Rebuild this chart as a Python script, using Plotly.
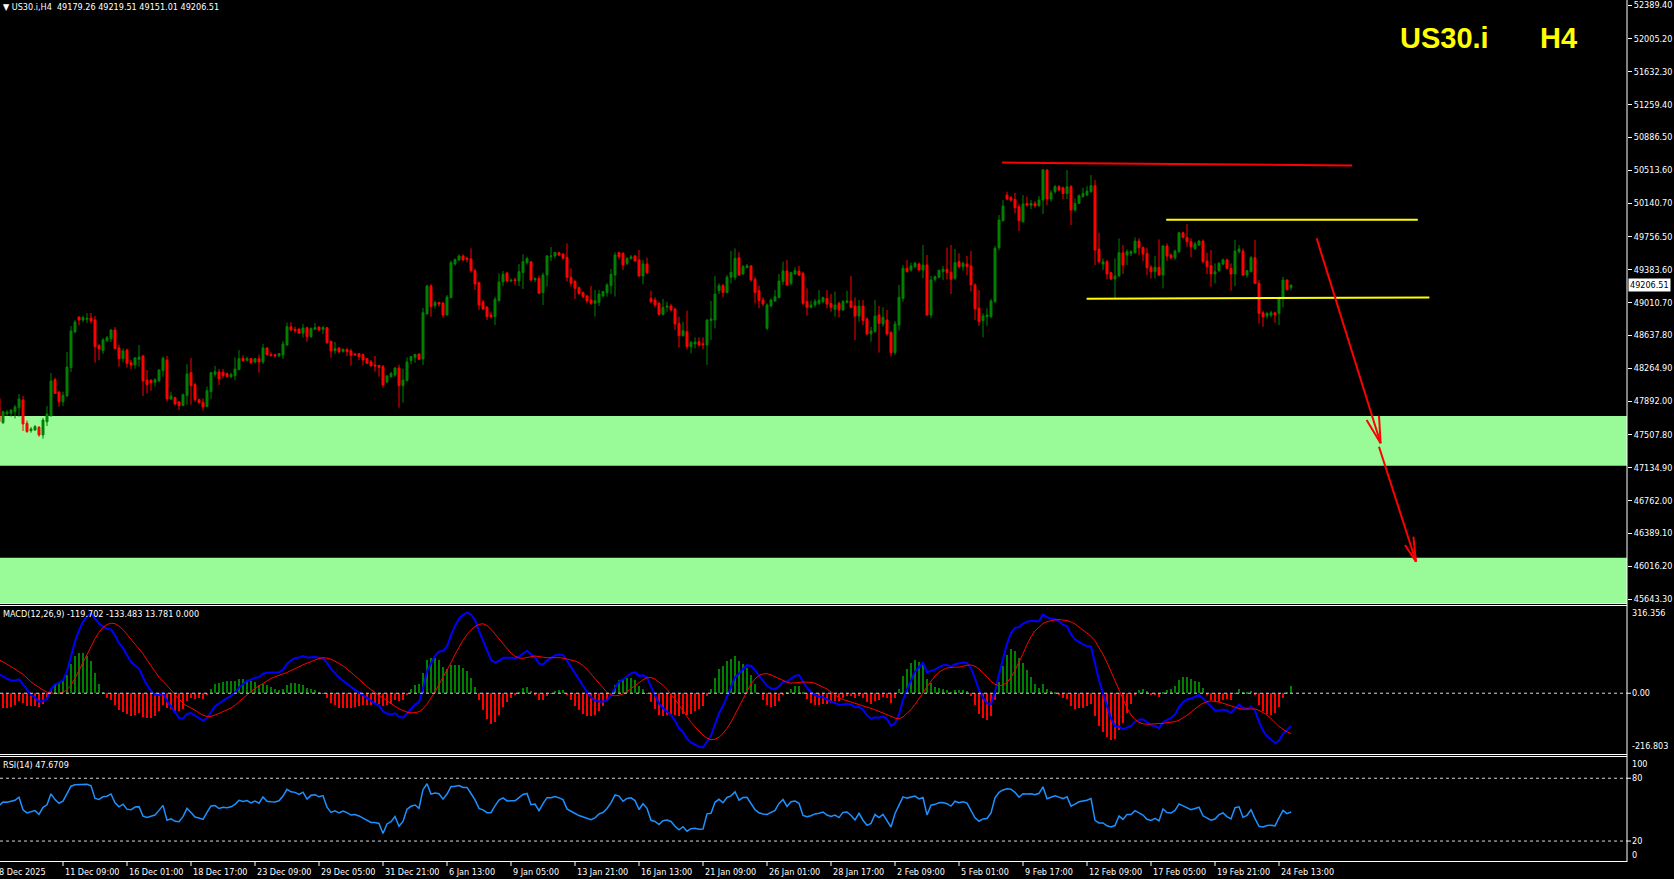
import numpy as np
import plotly.graph_objects as go

# ---------------- DATA ----------------
bar_open = [
47922,47646,47744,47752,47771,47816,47903,47638,47555,47563,
47593,47506,47657,47725,48134,47994,47884,47949,48271,48676,
48846,48812,48820,48835,48812,48521,48464,48577,48600,48699,
48494,48373,48471,48327,48301,48365,48403,48131,48127,48104,
48123,48237,48358,47915,47930,47881,47839,47953,48214,48078,
47907,47877,47828,47998,48195,48221,48218,48203,48168,48180,
48248,48377,48354,48373,48335,48373,48335,48494,48418,48418,
48407,48415,48528,48736,48706,48710,48661,48725,48623,48706,
48733,48706,48725,48570,48464,48494,48456,48475,48460,48426,
48430,48418,48373,48335,48301,48297,48282,48108,48168,48187,
48267,48066,48123,48350,48388,48426,48369,48880,49198,48975,
49009,49005,48869,49066,49448,49494,49539,49512,49505,49372,
49236,49016,48956,48869,48850,49032,49244,49346,49255,49270,
49255,49350,49463,49474,49270,49285,49122,49323,49531,49539,
49577,49562,49524,49297,49248,49179,49123,49085,49039,49001,
49013,49085,49123,49202,49323,49577,49569,49456,49513,49539,
49494,49312,49448,49058,49039,49001,48877,48956,48971,48937,
48774,48634,48680,48509,48540,48566,48543,48528,48805,48812,
49145,49202,49123,49297,49297,49520,49335,49407,49426,49274,
49145,49039,48717,48971,49028,49066,49248,49369,49229,49335,
49369,49342,49020,48956,48983,49001,49020,49058,49001,48933,
49001,48926,49013,49028,48971,48857,48971,48823,48653,48680,
48869,48767,48812,48668,48441,48755,49058,49399,49380,49418,
49448,49380,49437,48869,49274,49297,49361,49388,49354,49285,
49475,49418,49448,49426,49210,48945,48805,48850,48850,49020,
49633,49940,50231,50201,50182,50098,49928,50136,50114,50136,
50110,50174,50515,50186,50269,50326,50314,50250,50326,50061,
50136,50212,50231,50269,50337,49618,49447,49474,49349,49277,
49311,49576,49549,49568,49576,49708,49637,49568,49410,49360,
49410,49322,49652,49549,49519,49587,49803,49750,49701,49625,
49663,49708,49482,49430,49334,49372,49447,49493,49398,49334,
49587,49595,49322,49360,49519,49228,48894,48857,48868,48894,
48887,49057,49266,49179.26]

bar_high = [
47930,47782,47790,47797,47847,47972,47949,47669,47597,47619,
47608,47699,47835,48210,48157,48002,47998,48449,48744,48812,
48850,48861,48892,48892,48858,48540,48608,48630,48706,48733,
48532,48487,48487,48358,48392,48528,48418,48244,48142,48150,
48252,48396,48403,47998,47941,47892,47975,48309,48380,48100,
47919,47922,48055,48221,48290,48256,48256,48214,48214,48388,
48471,48411,48396,48380,48380,48418,48540,48502,48445,48430,
48437,48574,48782,48786,48736,48714,48767,48736,48729,48778,
48736,48744,48733,48577,48562,48502,48487,48494,48483,48441,
48433,48433,48380,48358,48403,48301,48301,48187,48225,48274,
48305,48259,48388,48403,48426,48433,48948,49213,49221,49032,
49020,49013,49096,49486,49512,49558,49558,49531,49626,49399,
49247,49039,48971,48907,49077,49342,49368,49357,49285,49293,
49448,49558,49531,49482,49297,49315,49350,49550,49641,49588,
49584,49569,49683,49399,49267,49191,49134,49096,49198,49153,
49153,49145,49229,49392,49581,49584,49581,49524,49550,49550,
49607,49494,49520,49145,49070,49020,49051,49020,48994,48952,
48850,48793,48918,48577,48615,48615,48615,48820,49028,49312,
49229,49221,49323,49596,49626,49581,49437,49448,49437,49304,
49198,49070,49001,49058,49153,49335,49475,49494,49361,49410,
49426,49361,49172,49032,49051,49153,49077,49153,49107,49134,
49020,49039,49145,49312,49070,49039,49039,48842,48736,49039,
48971,48956,48926,48687,48801,49210,49437,49494,49463,49475,
49463,49664,49550,49312,49316,49388,49426,49634,49664,49619,
49569,49475,49539,49596,49229,49153,48888,48945,49051,49653,
50004,50174,50269,50220,50257,50129,50231,50212,50174,50163,
50220,50526,50526,50288,50345,50345,50326,50515,50345,50193,
50239,50314,50333,50458,50401,49803,49512,49493,49360,49512,
49739,49663,49614,49606,49750,49739,49644,49633,49436,49538,
49727,49663,49682,49568,49614,49814,49814,49902,49739,49701,
49720,49727,49576,49606,49455,49474,49512,49512,49455,49720,
49663,49625,49379,49538,49720,49266,48917,48906,48917,48906,
49076,49303,49273,49219.51]

bar_low = [
47638,47631,47729,47714,47695,47714,47551,47532,47532,47551,
47487,47464,47608,47714,47972,47828,47835,47938,48221,48661,
48752,48786,48778,48774,48327,48358,48426,48562,48562,48479,
48282,48335,48271,48256,48259,48282,47949,47979,48009,48055,
48104,48168,47884,47903,47847,47790,47835,47850,47850,47881,
47866,47782,47824,47915,48168,48074,48150,48161,48150,48131,
48244,48335,48343,48312,48320,48214,48312,48411,48403,48388,
48388,48369,48517,48680,48668,48653,48611,48566,48608,48699,
48680,48653,48540,48384,48426,48441,48441,48403,48293,48403,
48358,48301,48312,48286,48225,48168,48043,48093,48157,48168,
47816,47873,48115,48309,48327,48358,48301,48873,48850,48941,
48964,48839,48865,49058,49429,49482,49482,49467,49350,49153,
48926,48926,48812,48831,48755,49020,49198,49240,49240,49209,
49198,49164,49444,49255,49240,49107,48982,49191,49482,49512,
49539,49494,49248,49191,49051,49096,49058,49001,48983,48850,
48971,49070,49077,49107,49077,49501,49380,49437,49501,49475,
49304,49221,49335,49001,48956,48861,48861,48907,48907,48699,
48498,48623,48479,48434,48490,48509,48483,48301,48585,48717,
49107,49070,49115,49229,49267,49312,49323,49399,49248,49001,
48945,48971,48699,48956,49020,49058,49210,49202,49202,49323,
49312,48983,48861,48945,48956,48983,49001,48945,48907,48850,
48842,48918,49001,48945,48585,48793,48755,48642,48566,48668,
48441,48736,48634,48396,48415,48691,49020,49350,49361,49399,
49372,49285,48861,48831,49248,49285,49267,49274,49107,49267,
49399,49372,49323,49134,48812,48744,48615,48744,48831,49009,
49606,49928,50174,50155,50023,49822,49917,50098,50072,50087,
50098,50015,50117,50155,50250,50276,50186,50186,49890,50042,
50129,50204,50220,50257,49436,49455,49379,49273,49266,49057,
49304,49334,49436,49538,49568,49549,49482,49322,49284,49284,
49311,49171,49485,49500,49493,49576,49739,49644,49523,49606,
49652,49455,49334,49190,49228,49360,49436,49390,49144,49197,
49568,49311,49292,49353,49220,48773,48735,48830,48841,48781,
48754,48955,49144,49151.01]

bar_close = [
47657,47771,47767,47790,47824,47915,47631,47544,47574,47601,
47506,47676,47744,48119,47979,47884,47956,48278,48687,48789,
48812,48839,48831,48801,48509,48483,48585,48611,48699,48487,
48373,48460,48320,48301,48380,48392,48119,48078,48100,48134,
48244,48377,47915,47949,47858,47839,47964,48199,48066,47907,
47873,47824,48009,48214,48225,48142,48180,48168,48191,48256,
48373,48350,48373,48327,48373,48335,48494,48418,48407,48403,
48430,48540,48736,48699,48691,48661,48721,48623,48714,48725,
48699,48725,48555,48460,48487,48449,48479,48452,48411,48418,
48396,48358,48320,48290,48290,48274,48074,48176,48203,48267,
48066,48131,48335,48396,48422,48365,48895,49198,48964,49009,
48994,48869,49073,49463,49497,49539,49494,49501,49372,49221,
48982,48937,48850,48850,49047,49244,49331,49255,49262,49259,
49361,49474,49509,49266,49281,49115,49323,49539,49539,49577,
49550,49513,49297,49229,49172,49115,49077,49028,49001,49032,
49107,49134,49210,49331,49550,49531,49437,49513,49528,49482,
49312,49448,49350,49020,48983,48877,48956,48971,48926,48767,
48634,48691,48509,48555,48562,48528,48532,48812,48824,49107,
49202,49126,49297,49354,49513,49323,49418,49426,49267,49123,
49032,48994,48983,49039,49077,49255,49369,49210,49350,49373,
49323,49001,48956,48983,49024,49039,49066,48994,48956,48983,
48926,49020,49028,48956,48857,48971,48805,48653,48687,48857,
48774,48842,48653,48441,48767,49070,49399,49361,49426,49456,
49380,49437,48869,49267,49304,49373,49388,49350,49274,49463,
49418,49456,49418,49210,48937,48793,48857,48869,49028,49626,
49947,50106,50186,50174,50087,49940,50129,50117,50136,50110,
50174,50515,50186,50257,50326,50288,50250,50326,50061,50136,
50223,50250,50276,50337,49606,49474,49474,49334,49277,49311,
49576,49436,49587,49587,49708,49633,49561,49406,49360,49410,
49322,49652,49538,49519,49595,49803,49750,49701,49644,49675,
49708,49474,49417,49334,49360,49455,49493,49398,49334,49595,
49618,49322,49372,49519,49228,48887,48849,48887,48894,48868,
49057,49266,49160,49206.51]

time_tick_bars = [16, 32, 48, 64, 80, 96, 112, 128, 144, 160,
                  176, 192, 208, 224, 240, 256, 272, 288, 304, 320]
time_tick_labels = ["11 Dec 09:00", "16 Dec 01:00", "18 Dec 17:00", "23 Dec 09:00",
                    "29 Dec 05:00", "31 Dec 21:00", "6 Jan 13:00", "9 Jan 05:00",
                    "13 Jan 21:00", "16 Jan 13:00", "21 Jan 09:00", "26 Jan 01:00",
                    "28 Jan 17:00", "2 Feb 09:00", "5 Feb 01:00", "9 Feb 17:00",
                    "12 Feb 09:00", "17 Feb 05:00", "19 Feb 21:00", "24 Feb 13:00"]
first_time_label = "8 Dec 2025"

price_tick_values = [52389.40, 52005.20, 51632.30, 51259.40, 50886.50, 50513.60,
                     50140.70, 49756.50, 49383.60, 49010.70, 48637.80, 48264.90,
                     47892.00, 47507.80, 47134.90, 46762.00, 46389.10, 46016.20,
                     45643.30]
price_range = [45597.9, 52446.2]
last_price = 49206.51

macd_range = [-216.803, 316.356]
rsi_levels = [80, 20]

header_text = "US30.i,H4  49179.26 49219.51 49151.01 49206.51"
macd_text = "MACD(12,26,9) -119.702 -133.483 13.781 0.000"
rsi_text = "RSI(14) 47.6709"

# drawn objects (bar index, price)
zone_a = [47157.3, 47721.7]
zone_b = [45597.9, 46112.4]
resistance_bars, resistance_prices = [250.75, 338.25], [50600, 50566]
range_top_bars, range_top_prices = [291.8, 354.7], [49950, 49950]
range_bot_bars, range_bot_prices = [271.9, 357.6], [49054, 49068]
arrow1_bars, arrow1_prices = [329.4, 345.4], [49740, 47412]
arrow1_wing_bars, arrow1_wing_prices = [341.9, 345.0], [47676, 47725]
arrow2_bars, arrow2_prices = [345.0, 354.25], [47373, 46067]
arrow2_wing_bars, arrow2_wing_prices = [351.5, 353.6], [46257, 46351]

# indicator state at the left edge
macd_seed_fast, macd_seed_slow, macd_seed_signal = 47850.0, 47758.0, 128.0
rsi_seed_gain, rsi_seed_loss = 62.0, 33.0

# ---------------- indicators ----------------
closes = np.array(bar_close, dtype=float)
bars = list(range(len(bar_close)))


def ema(values, n, seed):
    a = 2.0 / (n + 1)
    out = np.empty(len(values))
    prev = seed
    for k, v in enumerate(values):
        prev = prev + a * (v - prev)
        out[k] = prev
    return out


def sma(values, n, seed):
    window = [seed] * (n - 1)
    out = np.empty(len(values))
    for k, v in enumerate(values):
        window.append(v)
        out[k] = sum(window[-n:]) / n
    return out


macd_main = ema(closes, 12, macd_seed_fast) - ema(closes, 26, macd_seed_slow)
macd_signal = sma(macd_main, 9, macd_seed_signal)
macd_hist = macd_main - macd_signal

rsi = []
g, l = rsi_seed_gain, rsi_seed_loss
prev = bar_open[0]
for v in closes:
    ch = v - prev
    prev = v
    g = (g * 13 + max(ch, 0)) / 14
    l = (l * 13 + max(-ch, 0)) / 14
    rsi.append(100 - 100 / (1 + g / l) if l > 0 else 100)

# ---------------- figure ----------------
W, H = 1674, 879
ML, MR, MT, MB = 0, 47, 0, 17
PH = H - MT - MB  # 862
PW = W - ML - MR  # 1627


def py(px):  # pixel row -> paper y
    return (PH - px) / PH


GREEN = "#008000"
RED = "#FF0000"
FONT = "DejaVu Sans Condensed, Liberation Sans, sans-serif"

fig = go.Figure()
fig.add_trace(go.Candlestick(
    x=bars, open=bar_open, high=bar_high, low=bar_low, close=bar_close,
    increasing=dict(line=dict(color=GREEN, width=1), fillcolor=GREEN),
    decreasing=dict(line=dict(color=RED, width=1), fillcolor=RED),
    whiskerwidth=0, hoverinfo="skip", xaxis="x", yaxis="y"))

fig.add_trace(go.Bar(
    x=bars, y=macd_hist, width=0.72,
    marker=dict(color=[GREEN if h > 0 else RED for h in macd_hist], line=dict(width=0)),
    hoverinfo="skip", xaxis="x", yaxis="y2"))
fig.add_trace(go.Scatter(x=bars, y=macd_main, mode="lines",
                         line=dict(color="#0000FF", width=2), hoverinfo="skip",
                         xaxis="x", yaxis="y2"))
fig.add_trace(go.Scatter(x=bars, y=macd_signal, mode="lines",
                         line=dict(color=RED, width=1), hoverinfo="skip",
                         xaxis="x", yaxis="y2"))
fig.add_trace(go.Scatter(x=bars, y=rsi, mode="lines",
                         line=dict(color="#1E90FF", width=1.5), hoverinfo="skip",
                         xaxis="x", yaxis="y3"))

xr = [(0 + 1) / 4.0, (PW + 1) / 4.0]

shapes = []
for z in (zone_a, zone_b):
    shapes.append(dict(type="rect", xref="paper", yref="y", x0=0, x1=1, y0=z[0], y1=z[1],
                       fillcolor="#98FB98", line=dict(width=0), layer="below"))
for bx, pv, col in ((resistance_bars, resistance_prices, RED),
                    (range_top_bars, range_top_prices, "#FFFF00"),
                    (range_bot_bars, range_bot_prices, "#FFFF00")):
    shapes.append(dict(type="line", xref="x", yref="y", x0=bx[0], x1=bx[1], y0=pv[0], y1=pv[1],
                       line=dict(color=col, width=2)))
for bx, pv, wb, wp in ((arrow1_bars, arrow1_prices, arrow1_wing_bars, arrow1_wing_prices),
                       (arrow2_bars, arrow2_prices, arrow2_wing_bars, arrow2_wing_prices)):
    shapes.append(dict(type="line", xref="x", yref="y", x0=bx[0], x1=bx[1], y0=pv[0], y1=pv[1],
                       line=dict(color=RED, width=2)))
    for k in range(2):
        shapes.append(dict(type="line", xref="x", yref="y", x0=bx[1], x1=wb[k], y0=pv[1], y1=wp[k],
                           line=dict(color=RED, width=2)))

# MACD zero line, RSI levels (dashed)
shapes.append(dict(type="line", xref="paper", yref="y2", x0=0, x1=1, y0=0, y1=0,
                   line=dict(color="#D8D8D8", width=1, dash="3px,3px")))
for lv in rsi_levels:
    shapes.append(dict(type="line", xref="paper", yref="y3", x0=0, x1=1, y0=lv, y1=lv,
                       line=dict(color="#D8D8D8", width=1, dash="3px,3px")))

# window borders
for row in (603.5, 605.5, 754.5, 756.5, 861.5):
    shapes.append(dict(type="line", xref="paper", yref="paper", x0=0, x1=1,
                       y0=py(row), y1=py(row), line=dict(color="#FFFFFF", width=1)))
shapes.append(dict(type="line", xref="paper", yref="paper", x0=1, x1=1, y0=py(862), y1=1,
                   line=dict(color="#FFFFFF", width=1)))
# time ticks
for b in time_tick_bars:
    shapes.append(dict(type="line", xref="x", yref="paper", x0=b, x1=b,
                       y0=py(862), y1=py(866), line=dict(color="#FFFFFF", width=1)))
# small right ticks for sub-window labels
for yr, val in (("y2", 0),) + tuple(("y3", lv) for lv in rsi_levels):
    shapes.append(dict(type="line", xref="paper", yref=yr, x0=1, x1=1 + 4 / PW,
                       y0=val, y1=val, line=dict(color="#FFFFFF", width=1)))

ann = []
tf = dict(family=FONT, size=9, color="#FFFFFF")
ann.append(dict(xref="paper", yref="paper", x=0, y=1, xanchor="left", yanchor="top",
                xshift=1, yshift=0, text="\u25bc " + header_text, showarrow=False, font=tf))
ann.append(dict(xref="paper", yref="paper", x=0, y=py(606), xanchor="left", yanchor="top",
                xshift=1, yshift=-1, text=macd_text, showarrow=False, font=tf))
ann.append(dict(xref="paper", yref="paper", x=0, y=py(757), xanchor="left", yanchor="top",
                xshift=1, yshift=-1, text=rsi_text, showarrow=False, font=tf))
ann.append(dict(xref="paper", yref="paper", x=1398 / PW, y=py(38), xanchor="left", yanchor="middle",
                text="<b>US30.i</b>", showarrow=False,
                font=dict(family="Liberation Sans", size=29, color="#FFFF00")))
ann.append(dict(xref="paper", yref="paper", x=1538 / PW, y=py(38), xanchor="left", yanchor="middle",
                text="<b>H4</b>", showarrow=False,
                font=dict(family="Liberation Sans", size=29, color="#FFFF00")))
# current price box
ann.append(dict(xref="paper", yref="y", x=1, y=last_price, xanchor="left", yanchor="middle",
                xshift=1, text=f"{last_price:.2f}", showarrow=False, bgcolor="#FFFFFF",
                borderpad=1, font=dict(family=FONT, size=9, color="#000000")))
# sub-window labels
for yr, val, txt, anc in (("y2", macd_range[1], f"{macd_range[1]:.3f}", "top"),
                          ("y2", 0, "0.00", "middle"),
                          ("y2", macd_range[0], f"{macd_range[0]:.3f}", "bottom"),
                          ("y3", 100, "100", "top"),
                          ("y3", 80, "80", "middle"),
                          ("y3", 20, "20", "middle"),
                          ("y3", 0, "0", "bottom")):
    ann.append(dict(xref="paper", yref=yr, x=1, y=val, xanchor="left", yanchor=anc,
                    xshift=3, text=txt, showarrow=False, font=tf))
# time labels
for b, t in zip(time_tick_bars, time_tick_labels):
    ann.append(dict(xref="x", yref="paper", x=b, y=0, xanchor="left", yanchor="top",
                    xshift=0, yshift=-3, text=t, showarrow=False, font=tf))
ann.append(dict(xref="paper", yref="paper", x=0, y=0, xanchor="left", yanchor="top",
                xshift=-3, yshift=-3, text=first_time_label, showarrow=False, font=tf))

fig.update_layout(
    width=W, height=H, margin=dict(l=ML, r=MR, t=MT, b=MB, pad=0),
    paper_bgcolor="#000000", plot_bgcolor="#000000", showlegend=False,
    bargap=0, hovermode=False,
    xaxis=dict(range=xr, showgrid=False, zeroline=False, showticklabels=False,
               ticks="", showline=False, rangeslider=dict(visible=False), fixedrange=True),
    yaxis=dict(domain=[py(603), 1], range=price_range, side="right", anchor="x",
               tickvals=price_tick_values, ticktext=[f"{v:.2f}" for v in price_tick_values],
               ticks="outside", ticklen=4, tickcolor="#FFFFFF", tickwidth=1,
               tickfont=tf, showgrid=False, zeroline=False, showline=False, fixedrange=True),
    yaxis2=dict(domain=[py(753), py(606)], range=macd_range, anchor="x", showgrid=False,
                zeroline=False, showticklabels=False, showline=False, fixedrange=True),
    yaxis3=dict(domain=[0, py(757.3)], range=[0, 100], anchor="x", showgrid=False,
                zeroline=False, showticklabels=False, showline=False, fixedrange=True),
    shapes=shapes, annotations=ann,
)

fig.write_html("out.html", config={"displayModeBar": False},
               post_script="document.body.style.margin='0';document.body.style.background='#000';")
